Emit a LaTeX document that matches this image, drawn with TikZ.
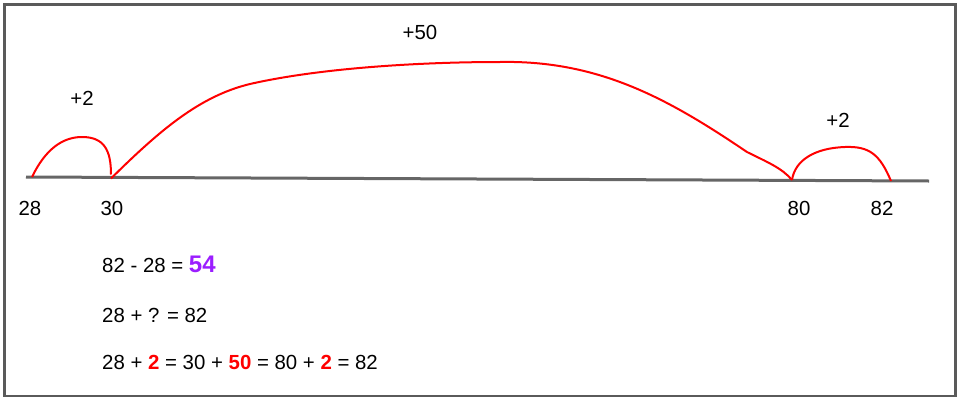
\documentclass[tikz,border=0pt]{standalone}
\usepackage{fontspec}
\setmainfont{Liberation Sans}
\definecolor{framegray}{HTML}{5A5A5A}
\definecolor{linegray}{HTML}{666666}
\definecolor{jumpred}{HTML}{FF0000}
\definecolor{answerpurple}{HTML}{9B1EFF}
\begin{document}
\begin{tikzpicture}[x=1pt,y=-1pt,
  lbl/.style={inner sep=0pt,anchor=base,font=\fontsize{20.4}{24}\selectfont},
  eq/.style={inner sep=0pt,anchor=base west,font=\fontsize{20.4}{24}\selectfont},
  jump/.style={draw=jumpred,line width=2pt},
  numline/.style={draw=linegray,line width=3pt}]
\useasboundingbox (0,0) rectangle (962,402);
\draw[framegray,line width=2.5pt] (4.5,4.5) rectangle (955.5,396);
% number line
\coordinate (L) at (26,177);
\coordinate (R) at (929,181);
\coordinate (p28) at (32,177);
\coordinate (p30) at (111,178.5);
\coordinate (p80) at (792,180);
\coordinate (p82) at (891,181);
\draw[numline] (L) -- (R);
% jumps
\draw[jump] (p28) .. controls (45,150) and (62,137) .. (82,137)
  .. controls (104,137) and (111,150) .. ([yshift=4pt]p30);
\draw[jump] (p30) .. controls (160,130) and (200,96) .. (250,84)
  .. controls (320,68) and (420,62) .. (500,62)
  .. controls (600,60) and (670,100) .. (747,152)
  .. controls (767,162) and (782,168) .. (p80);
\draw[jump] (p80) .. controls (795,160) and (815,148) .. (845,147)
  .. controls (870,146) and (880,155) .. (p82);
% jump labels
\node[lbl] (j1) at (82,105) {+2};
\node[lbl] (j2) at (420,39) {+50};
\node[lbl] (j3) at (838,127) {+2};
% tick labels
\node[lbl] (t28) at (30,215) {28};
\node[lbl] (t30) at (112,215) {30};
\node[lbl] (t80) at (799,215) {80};
\node[lbl] (t82) at (882,215) {82};
% equations
\node[eq] (e1) at (102,272) {82 - 28 = {\fontsize{24}{28}\selectfont\bfseries\color{answerpurple}54}};
\node[eq] (e2) at (102,322) {28 + ? = 82};
\node[eq] (e3) at (102,369) {28 + {\bfseries\color{jumpred}2} = 30 + {\bfseries\color{jumpred}50} = 80 + {\bfseries\color{jumpred}2} = 82};
\end{tikzpicture}
\end{document}
